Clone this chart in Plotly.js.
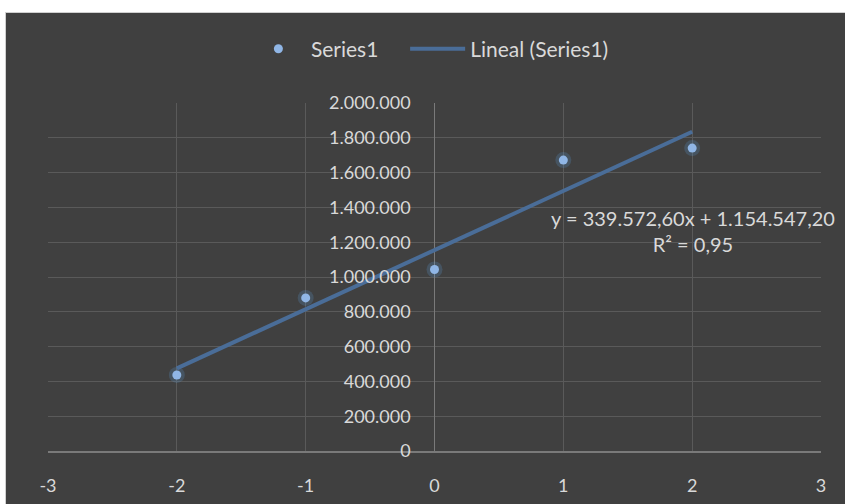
<!DOCTYPE html>
<html>
<head>
<meta charset="utf-8">
<script src="https://cdn.plot.ly/plotly-3.0.1.min.js"></script>
<style>
  html, body { margin: 0; padding: 0; background: #ffffff; overflow: hidden; }
  #frame { position: absolute; left: 5px; top: 12px; width: 840px; height: 492px; border-top: 1px solid #d0d0d0; border-left: 1px solid #d0d0d0; box-sizing: border-box; }
  #chart { width: 840px; height: 492px; }
</style>
</head>
<body>
<div id="frame"><div id="chart"></div></div>
<script>
const xValues = [-2, -1, 0, 1, 2];
const yValues = [437000, 880000, 1043000, 1672000, 1741000];
const seriesName = "Series1";
const trendName = "Lineal (Series1)";
const equationText = "y = 339.572,60x + 1.154.547,20<br>R² = 0,95";
const xTickValues = [-3, -2, -1, 0, 1, 2, 3];
const xTickLabels = ["-3", "-2", "-1", "0", "1", "2", "3"];

// least-squares trendline from the data
const n = xValues.length;
const mx = xValues.reduce((a, b) => a + b, 0) / n;
const my = yValues.reduce((a, b) => a + b, 0) / n;
let sxy = 0, sxx = 0;
for (let i = 0; i < n; i++) { sxy += (xValues[i] - mx) * (yValues[i] - my); sxx += (xValues[i] - mx) ** 2; }
const slope = sxy / sxx, intercept = my - slope * mx;
const tx = [Math.min(...xValues), Math.max(...xValues)];
const ty = tx.map(x => intercept + slope * x);

const textColor = '#d9d9d9';
const family = 'Lato, "Open Sans", sans-serif';
const font = { family: family, size: 18, color: textColor };
const bigFont = { family: family, size: 21, color: textColor };
const eqFont = { family: family, size: 20, color: textColor };

const traces = [
  { x: xValues, y: yValues, mode: 'markers', type: 'scatter', showlegend: false, hoverinfo: 'skip',
    marker: { color: 'rgba(91,155,213,0.22)', size: 16 } },
  { x: tx, y: ty, mode: 'lines', type: 'scatter', name: trendName, legend: 'legend2',
    line: { color: '#4a6d98', width: 4 } },
  { x: xValues, y: yValues, mode: 'markers', type: 'scatter', name: seriesName, legend: 'legend',
    marker: { color: '#90b6e6', size: 9 } }
];

const legendBase = { orientation: 'h', yanchor: 'middle', y: 1.155, xanchor: 'left',
                     font: bigFont, itemwidth: 55, bgcolor: 'rgba(0,0,0,0)' };

const layout = {
  width: 840, height: 492,
  paper_bgcolor: '#404040', plot_bgcolor: '#404040',
  margin: { l: 42, r: 25, t: 90, b: 54 },
  separators: ',.',
  font: font,
  showlegend: true,
  legend: Object.assign({}, legendBase, { x: 0.256 }),
  legend2: Object.assign({}, legendBase, { x: 0.462 }),
  xaxis: { range: [-3, 3], tickvals: xTickValues, ticktext: xTickLabels, showgrid: true,
           gridcolor: '#5a5a5a', gridwidth: 1,
           zeroline: true, zerolinecolor: '#7a7a7a', zerolinewidth: 1.5,
           showline: true, linecolor: '#7a7a7a', linewidth: 1.5,
           ticks: 'outside', ticklen: 18, tickcolor: 'rgba(0,0,0,0)', tickfont: font, fixedrange: true },
  yaxis: { range: [0, 2000000], dtick: 200000, tickformat: ',d', showgrid: true, gridcolor: '#5a5a5a',
           gridwidth: 1, zeroline: false, anchor: 'free', position: 0.488, showline: false,
           ticks: 'outside', ticklen: 11, tickcolor: 'rgba(0,0,0,0)', tickfont: font, fixedrange: true },
  annotations: [
    { xref: 'paper', yref: 'paper', x: 0.834, y: 0.632, xanchor: 'center', yanchor: 'middle',
      text: equationText, showarrow: false, align: 'center', font: eqFont }
  ]
};

Plotly.newPlot('chart', traces, layout, { displayModeBar: false, staticPlot: true });
</script>
</body>
</html>
